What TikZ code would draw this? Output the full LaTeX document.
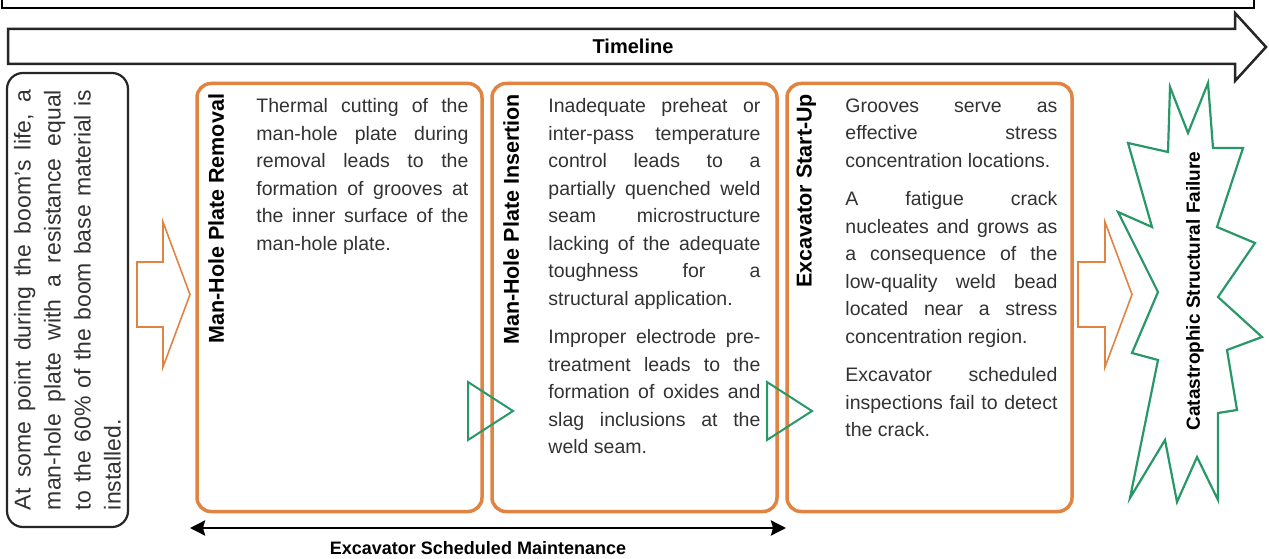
\documentclass[tikz,border=0pt]{standalone}
\usepackage{fontspec}
\setmainfont{Liberation Sans}
\usepackage{tikz}
\usetikzlibrary{positioning, arrows.meta}
\definecolor{stageOrange}{RGB}{224,132,68}
\definecolor{failGreen}{RGB}{40,152,104}
\definecolor{textGray}{RGB}{50,50,50}
\tolerance=10000
\hbadness=10000
\hyphenpenalty=10000
\exhyphenpenalty=10000

\begin{document}
\begin{tikzpicture}[x=1pt, y=-1pt,
    stage/.style={draw=stageOrange, line width=3.5pt, rounded corners=14pt,
        minimum width=285pt, minimum height=428pt, inner sep=0pt},
    stagetitle/.style={rotate=90, anchor=east, inner sep=0pt,
        font=\fontsize{21.5}{26}\selectfont\bfseries},
    stagetext/.style={anchor=north west, inner sep=0pt, text width=212pt,
        align=justify, text=textGray, font=\fontsize{19.5}{27.5}\selectfont},
    startbox/.style={draw=black!85, line width=2.2pt, rounded corners=16pt,
        rotate=90, minimum width=454pt, minimum height=121pt, inner xsep=17pt,
        text width=420pt, align=justify, text=textGray,
        font=\fontsize{23}{30}\selectfont},
    boldcap/.style={inner sep=0pt, font=\fontsize{18}{22}\selectfont\bfseries},
    blockarrow/.style={draw=stageOrange, line width=1.6pt},
    trigger/.style={draw=failGreen, line width=2pt},
    ]
    \useasboundingbox[fill=white] (0,0) rectangle (1269,559);

    \node[startbox] (start) at (67.5,300) {At some point during the boom's life, a\linebreak
        man-hole plate with a resistance equal\linebreak
        to the 60\% of the boom base material is\linebreak installed.};

    \node[stage] (b1) at (339.5,297.5) {};
    \node[stage, right=6.5pt of b1] (b2) {};
    \node[stage, right=6.5pt of b2] (b3) {};

    \node[stagetitle] (t1) at ([xshift=21pt,yshift=-12pt]b1.north west) {Man-Hole Plate Removal};
    \node[stagetitle] (t2) at ([xshift=21pt,yshift=-12pt]b2.north west) {Man-Hole Plate Insertion};
    \node[stagetitle] (t3) at ([xshift=21pt,yshift=-12pt]b3.north west) {Excavator Start-Up};

    \node[stagetext] (d1) at ([xshift=61pt,yshift=-16.5pt]b1.north west) {Thermal cutting of the\linebreak
        man-hole plate during\linebreak removal leads to the\linebreak formation of grooves at\linebreak
        the inner surface of the\linebreak man-hole plate.};
    \node[stagetext] (d2) at ([xshift=58pt,yshift=-16.5pt]b2.north west) {Inadequate preheat or\linebreak
        inter-pass temperature\linebreak control leads to a\linebreak partially quenched weld\linebreak
        seam microstructure\linebreak lacking of the adequate\linebreak toughness for a\linebreak
        structural application.\\[11pt]
        Improper electrode pre-\linebreak treatment leads to the\linebreak formation of oxides and\linebreak
        slag inclusions at the\linebreak weld seam.};
    \node[stagetext] (d3) at ([xshift=60pt,yshift=-16.5pt]b3.north west) {Grooves serve as\linebreak
        effective stress\linebreak concentration locations.\\[11pt]
        A fatigue crack\linebreak nucleates and grows as\linebreak a consequence of the\linebreak
        low-quality weld bead\linebreak located near a stress\linebreak concentration region.\\[11pt]
        Excavator scheduled\linebreak inspections fail to detect\linebreak the crack.};

    \node[boldcap, font=\fontsize{20}{24}\selectfont\bfseries] (tl) at (633,46) {Timeline};
    \node[boldcap, rotate=90, font=\fontsize{19}{23}\selectfont\bfseries] (fail) at (1195,291) {Catastrophic Structural Failure};
    \node[boldcap] (maint) at (478,548) {Excavator Scheduled Maintenance};

    \coordinate (mL) at (190,528);
    \coordinate (mR) at (786,528);

    \draw[line width=1.6pt] (2,0) -- (2,8) -- (1254,8) -- (1254,0);
    \draw[line width=2.5pt, draw=black!85] (8,29) -- (1235,29) -- (1235,13) -- (1266,47)
        -- (1235,81) -- (1235,64) -- (8,64) -- cycle;

    \draw[blockarrow] (137,262) -- (163,262) -- (163,222) -- (190,294.5) -- (163,367)
        -- (163,327) -- (137,327) -- cycle;
    \draw[blockarrow] (1078,262) -- (1105,262) -- (1105,222) -- (1132,294.5) -- (1105,367)
        -- (1105,327) -- (1078,327) -- cycle;

    \draw[trigger] (468,382) -- (513,411) -- (468,440) -- cycle;
    \draw[trigger] (767,382) -- (812,411) -- (767,440) -- cycle;

    \draw[trigger, line width=2.2pt] (1170,87) -- (1188,133) -- (1208,83) -- (1213,148)
        -- (1243,148) -- (1217,227) -- (1255,243) -- (1218,297) -- (1262,337)
        -- (1227,350) -- (1237,410) -- (1218,413) -- (1218,500) -- (1197,457)
        -- (1177,502) -- (1165,440) -- (1130,498) -- (1158,360) -- (1132,353)
        -- (1158,292) -- (1118,212) -- (1152,227) -- (1128,143) -- (1168,152) -- cycle;

    \draw[line width=2.8pt, {Stealth[length=15pt,width=15pt,inset=2pt]}-{Stealth[length=15pt,width=15pt,inset=2pt]}] (mL) -- (mR);
\end{tikzpicture}
\end{document}
